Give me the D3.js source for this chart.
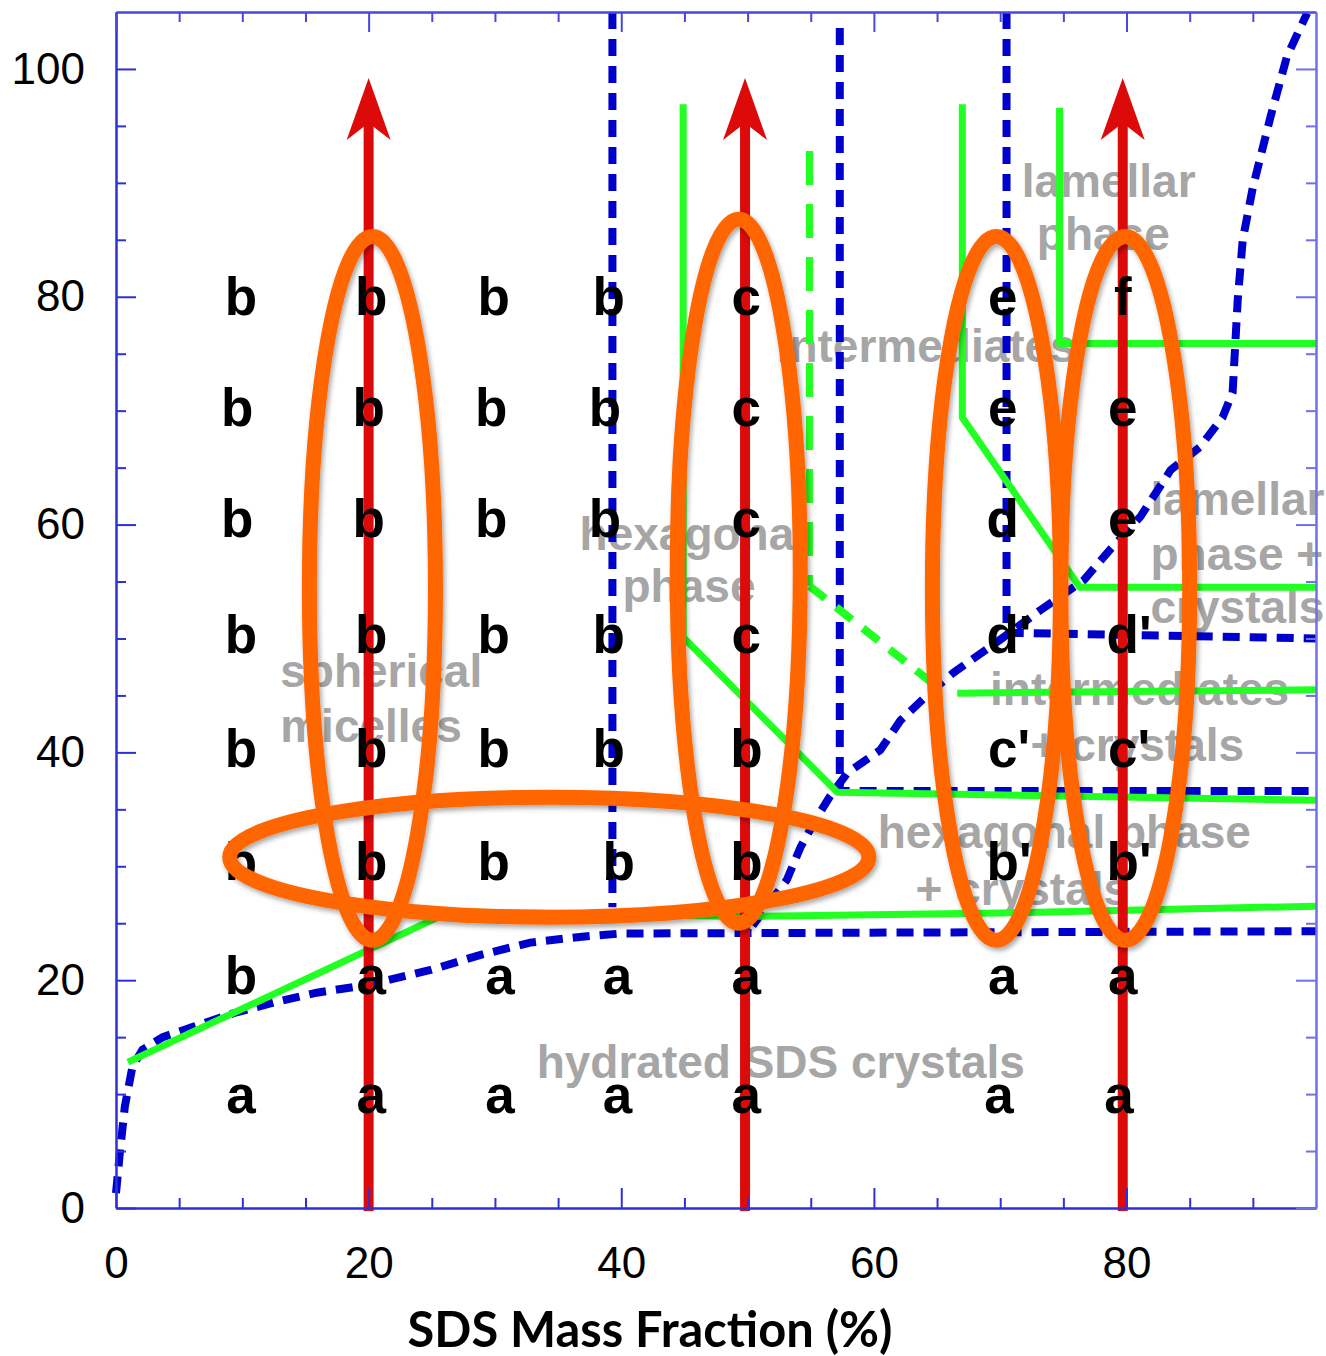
<!DOCTYPE html>
<html><head><meta charset="utf-8">
<script src="https://cdn.jsdelivr.net/npm/d3@7"></script>
<style>body{margin:0;background:#fff}svg{display:block}</style>
</head><body><svg id="c" width="1326" height="1356"></svg>
<script>
// ---------- data ----------
const xDomain = [0, 95];
const yDomain = [0, 105];
const xMajor = [0, 20, 40, 60, 80];
const yMajor = [0, 20, 40, 60, 80, 100];
const xMinor = [5, 10, 15, 25, 30, 35, 45, 50, 55, 65, 70, 75, 85, 90];
const yMinor = [5, 10, 15, 25, 30, 35, 45, 50, 55, 65, 70, 75, 85, 90, 95];
const xTitle = "SDS Mass Fraction (%)";

// blue dashed boundaries
const blueLow = [[0,1.3],[0.3,4.8],[0.7,8.9],[1.3,12.4],[2.1,13.9],[3.7,15.0],[6.1,15.9],[9.3,17.1],[12.7,18.1],[15.9,18.9],[20,19.6],[24.9,20.9],[28.8,22.2],[32.8,23.3],[36.7,23.8],[40,24.1],[95,24.3]];
const blueHigh = [[50.4,24.8],[53.1,28.8],[54.2,31.7],[55.5,34.3],[56.5,36.1],[57.9,38.2],[60.5,40.2],[62.1,42.8],[64.4,45.2],[66.3,47.0],[70.0,49.9],[73.2,52.5],[76.6,55.1],[78.7,57.8],[81.1,60.7],[83.5,64.8],[85.8,66.8],[87.6,69.4],[88.4,71.6],[88.8,79.7],[89.2,85.0],[90.0,89.6],[91.4,95.8],[92.7,101.1],[94.3,104.9]];
const blueV1 = [[39.3,105],[39.3,26.4]];
const blueV2 = [[57.3,103.6],[57.3,36.6],[95,36.6]];
const blueV3 = [[70.5,105],[70.5,50.5],[95,50.0]];

// green boundaries
const greenLow = [[0.95,12.8],[26.4,26.0],[50,25.6],[70,25.9],[95,26.5]];
const greenHex = [[44.9,96.9],[44.9,50.1],[57.1,36.5],[95,35.8]];
const greenDashV = [[54.9,92.8],[54.9,54.6]];
const greenDashD = [[54.9,54.6],[65.4,45.4]];
const greenMid = [[66.6,45.2],[95,45.5]];
const greenLam1 = [[67.0,96.9],[67.0,69.4],[76.3,54.5],[95,54.5]];
const greenLam2 = [[74.7,96.6],[74.7,75.9],[95,75.9]];

// red heating paths
const arrowX = [20, 49.8, 79.7];
const arrowTop = 99.2;

// orange ellipses (data units)
const ellCx = [20.3, 49.3, 69.7, 79.9, 34.3];
const ellCy = [54.4, 55.9, 54.4, 54.4, 30.8];
const ellRx = [4.99, 4.87, 5.07, 5.1, 25.3];
const ellRy = [30.9, 30.9, 30.9, 30.9, 5.27];

// observation grid
const colX = [9.9, 20.2, 29.9, 39.0, 49.9, 70.2, 79.7];
const rowT = [80.1, 70.3, 60.6, 50.4, 40.4, 30.5, 20.5, 10.0];
const letters = [
  ["b","b","b","b","c","e","f"],
  ["b","b","b","b","c","e","e"],
  ["b","b","b","b","c","d","e"],
  ["b","b","b","b","c","d'","d'"],
  ["b","b","b","b","b","c'","c'"],
  ["b","b","b","b","b","b'","b'"],
  ["b","a","a","a","a","a","a"],
  ["a","a","a","a","a","a","a"]
];
const cellShift = {"5,3":0.8, "6,2":0.5, "6,3":0.7, "7,2":0.5, "7,3":0.7, "1,0":-0.3, "2,0":-0.3, "1,1":-0.2, "2,1":-0.2, "1,2":-0.2, "2,2":-0.2, "1,3":-0.3, "2,3":-0.3, "7,5":-0.3, "7,6":-0.3};

// region names
const regionText = ["lamellar","phase","intermediates","hexagonal","phase","spherical","micelles","lamellar","phase +","crystals","intermediates","+ crystals","hexagonal phase","+ crystals","hydrated SDS crystals"];
const regionX = [71.7,72.9,52.3,36.7,40.1,13.0,13.0,81.9,81.9,81.9,69.2,72.4,60.3,63.3,33.3];
const regionY = [88.8,84.1,74.3,57.8,53.2,45.7,40.9,60.8,56.0,51.4,44.2,39.2,31.6,26.6,11.4];

// ---------- drawing ----------
const svg = d3.select("#c");
const x = d3.scaleLinear(xDomain, [116, 1316]);
const y = d3.scaleLinear(yDomain, [1208, 12]);
const line = d3.line().x(d => x(d[0])).y(d => y(d[1]));

const defs = svg.append("defs");
const f = defs.append("filter").attr("id","sh").attr("x","-20%").attr("y","-20%").attr("width","140%").attr("height","140%");
f.append("feDropShadow").attr("dx",2).attr("dy",3).attr("stdDeviation",2.5).attr("flood-color","#000").attr("flood-opacity",0.35);

svg.append("rect").attr("width",1326).attr("height",1356).attr("fill","#fff");

// region names
svg.append("g").selectAll("text").data(regionText).join("text")
  .attr("x",(d,i)=>x(regionX[i])).attr("y",(d,i)=>y(regionY[i]))
  .attr("font-family","'Liberation Sans', Arial, sans-serif").attr("font-weight","bold")
  .attr("font-size",46).attr("fill","#a6a6a6").text(d=>d);

// blue dashed
const gB = svg.append("g").attr("fill","none").attr("stroke","#0000cc").attr("stroke-width",8).attr("stroke-dasharray","17,10");
[blueLow, blueHigh, blueV1, blueV2, blueV3].forEach(p => gB.append("path").attr("d", line(p)));

// green
const gG = svg.append("g").attr("fill","none").attr("stroke","#22ff22").attr("stroke-width",7).attr("stroke-linejoin","round");
[greenLow, greenHex, greenMid, greenLam1, greenLam2].forEach(p => gG.append("path").attr("d", line(p)));
gG.append("path").attr("d", line(greenDashV)).attr("stroke-dasharray","34,19");
gG.append("path").attr("d", line(greenDashD)).attr("stroke-dasharray","20,14").attr("stroke-width",8);

// red arrows
const gR = svg.append("g");
arrowX.forEach(v => {
  const cx = x(v), ty = y(arrowTop);
  gR.append("line").attr("x1",cx).attr("x2",cx).attr("y1",y(0)+3).attr("y2",ty+40)
    .attr("stroke","#dd0a0a").attr("stroke-width",10);
  gR.append("path").attr("d",`M${cx},${ty} L${cx+22},${ty+62} L${cx},${ty+45} L${cx-22},${ty+62} Z`).attr("fill","#dd0a0a");
});

// letters
const gL = svg.append("g").attr("font-family","'Liberation Sans', Arial, sans-serif").attr("font-weight","bold").attr("font-size",53).attr("fill","#000");
letters.forEach((row,i) => row.forEach((t,j) => {
  const sh = cellShift[i+","+j] || 0;
  const cx = x(colX[j] + sh), by = y(rowT[i]);
  const base = gL.append("text").attr("x",cx).attr("y",by).attr("dy","0.36em").attr("text-anchor","middle").text(t[0]);
  if (t.length > 1) {
    const w = base.node().getComputedTextLength();
    gL.append("text").attr("x",cx + w/2).attr("y",by).attr("dy","0.36em").text(t.slice(1));
  }
}));

// orange ellipses
svg.append("g").attr("filter","url(#sh)").selectAll("ellipse").data(ellCx).join("ellipse")
  .attr("cx",(d,i)=>x(d)).attr("cy",(d,i)=>y(ellCy[i]))
  .attr("rx",(d,i)=>x(ellRx[i])-x(0)).attr("ry",(d,i)=>y(0)-y(ellRy[i]))
  .attr("fill","none").attr("stroke","#ff6600").attr("stroke-width",15);

// axes
const axCol = "#3030d8";
function styleAxis(g, col){
  g.selectAll(".domain").attr("stroke",col).attr("stroke-width",2);
  g.selectAll(".tick line").attr("stroke",col).attr("stroke-width",2);
}
const fontTick = "'Liberation Sans', Arial, sans-serif";
const gx = svg.append("g").attr("transform",`translate(0,${y(0)})`)
  .call(d3.axisBottom(x).tickValues(xMajor).tickSize(-20).tickSizeOuter(0).tickPadding(39).tickFormat(d3.format("d")));
gx.selectAll("text").attr("font-family",fontTick).attr("font-size",44).attr("fill","#000");
styleAxis(gx, axCol);
const gxm = svg.append("g").attr("transform",`translate(0,${y(0)})`)
  .call(d3.axisBottom(x).tickValues(xMinor).tickSize(-10).tickSizeOuter(0).tickFormat(""));
styleAxis(gxm, axCol);

const gy = svg.append("g").attr("transform",`translate(${x(0)},0)`)
  .call(d3.axisLeft(y).tickValues(yMajor).tickSize(-20).tickSizeOuter(0).tickPadding(31).tickFormat(d3.format("d")));
gy.selectAll("text").attr("font-family",fontTick).attr("font-size",44).attr("fill","#000");
styleAxis(gy, axCol);
const gym = svg.append("g").attr("transform",`translate(${x(0)},0)`)
  .call(d3.axisLeft(y).tickValues(yMinor).tickSize(-10).tickSizeOuter(0).tickFormat(""));
styleAxis(gym, axCol);

const gt = svg.append("g").attr("transform",`translate(0,${y(105)})`)
  .call(d3.axisTop(x).tickValues(xMajor).tickSize(-20).tickSizeOuter(0).tickFormat(""));
styleAxis(gt, "#4848e0");
const gtm = svg.append("g").attr("transform",`translate(0,${y(105)})`)
  .call(d3.axisTop(x).tickValues(xMinor).tickSize(-10).tickSizeOuter(0).tickFormat(""));
styleAxis(gtm, "#4848e0");

const gr = svg.append("g").attr("transform",`translate(${x(95)},0)`)
  .call(d3.axisRight(y).tickValues(yMajor).tickSize(-20).tickSizeOuter(0).tickFormat(""));
styleAxis(gr, "#7070e8");
const grm = svg.append("g").attr("transform",`translate(${x(95)},0)`)
  .call(d3.axisRight(y).tickValues(yMinor).tickSize(-10).tickSizeOuter(0).tickFormat(""));
styleAxis(grm, "#7070e8");

// x title
const tt = svg.append("text").attr("x",650).attr("y",1347).attr("text-anchor","middle")
  .attr("font-family","Lato, 'Open Sans', sans-serif").attr("font-weight","bold").attr("font-size",50)
  .attr("fill","#000").text(xTitle);
const tw = tt.node().getComputedTextLength();
tt.attr("font-size", 50 * 485 / tw);
</script>
</body></html>
